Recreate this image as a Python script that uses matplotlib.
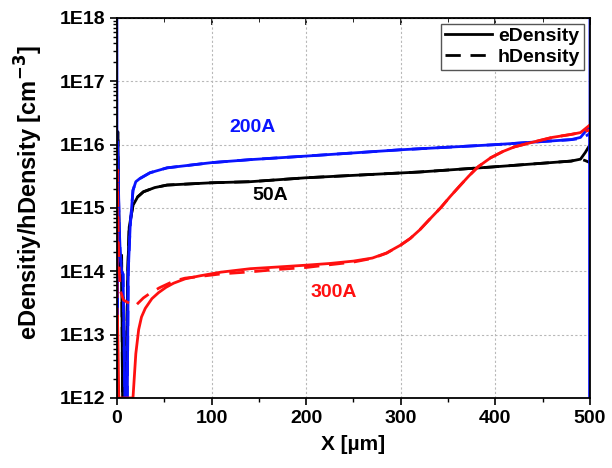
import numpy as np
import matplotlib.pyplot as plt
from matplotlib.ticker import LogLocator, FixedLocator, NullFormatter

plt.rcParams['font.family'] = ['Liberation Sans', 'DejaVu Sans']
plt.rcParams['font.weight'] = 'bold'

# 50A (black)
x_50_e = [0, 0.5, 1, 1.5, 2, 3, 4, 5, 6, 8, 9.5, 10.5, 11.5, 13, 17, 22, 28, 40, 53, 100, 141, 200, 320, 402, 480, 490, 495, 500]
n_50_e = [1e12, 5e15, 1.6e16, 3e15, 8e14, 1e14, 1.5e14, 1.8e14, 1e12, 1e11, 1e12, 1e13, 1e14, 5e14, 1.1e15, 1.5e15, 1.8e15, 2.1e15, 2.3e15, 2.5e15, 2.6e15, 3.0e15, 3.7e15, 4.5e15, 5.5e15, 5.9e15, 7.5e15, 1.0e16]
x_50_h = [0, 0.5, 1, 1.5, 2, 3, 4, 5, 6, 8, 9.5, 10.5, 11.5, 13, 17, 22, 28, 40, 53, 100, 141, 200, 320, 402, 480, 490, 495, 500]
n_50_h = [1e12, 4e15, 1.2e16, 2e15, 6e14, 1e14, 1.4e14, 1.7e14, 1e12, 1e11, 1e12, 1e13, 1e14, 5e14, 1.1e15, 1.5e15, 1.8e15, 2.1e15, 2.3e15, 2.5e15, 2.6e15, 3.0e15, 3.7e15, 4.5e15, 5.5e15, 5.9e15, 5.6e15, 5.2e15]

# 200A (blue)
x_200_e = [0, 0.2, 0.8, 1.5, 2.5, 3.5, 5, 6.5, 8.5, 10, 11, 12, 14, 17, 20, 24, 35, 53, 100, 141, 200, 300, 400, 480, 490, 495, 500, 500, 500]
n_200_e = [1e19, 1e12, 1.1e16, 3e15, 5e14, 2e14, 1e14, 9e13, 1e12, 1e11, 1e12, 1e14, 5e14, 1.9e15, 2.6e15, 2.9e15, 3.6e15, 4.3e15, 5.2e15, 5.8e15, 6.6e15, 8.3e15, 1.0e16, 1.2e16, 1.3e16, 1.6e16, 2.0e16, 1e12, 1e19]
x_200_h = [0, 0.8, 1.5, 2.5, 3.5, 5, 6.5, 8.5, 10, 11, 12, 14, 17, 20, 24, 35, 53, 100, 141, 200, 300, 400, 480, 490, 495, 500]
n_200_h = [1e12, 9e15, 2.5e15, 4e14, 2e14, 1e14, 9e13, 1e12, 1e11, 1e12, 1e14, 5e14, 1.9e15, 2.6e15, 2.9e15, 3.6e15, 4.3e15, 5.2e15, 5.8e15, 6.6e15, 8.3e15, 1.0e16, 1.2e16, 1.25e16, 1.35e16, 1.5e16]

# 300A (red)
x_300_e = [0, 0.5, 1, 2, 17, 20, 23, 26, 30, 37, 44, 52, 60, 72, 88, 110, 141, 170, 200, 225, 250, 270, 285, 300, 310,
           320, 330, 342, 352, 362, 372, 382, 395, 408, 420, 437, 460, 480, 490, 500]
n_300_e = [1e12, 2e13, 1e13, 1e12, 1e12, 5e12, 1.2e13, 1.9e13, 2.6e13, 3.7e13, 4.6e13, 5.6e13, 6.5e13, 7.6e13, 8.5e13, 9.7e13, 1.1e14, 1.17e14, 1.25e14, 1.33e14, 1.45e14, 1.62e14, 1.95e14, 2.6e14, 3.3e14,
           4.5e14, 6.5e14, 1.0e15, 1.5e15, 2.2e15, 3.2e15, 4.5e15, 6.2e15, 7.8e15, 9.2e15, 1.07e16, 1.3e16, 1.45e16, 1.55e16, 2.05e16]
x_300_h = [0, 0.5, 1, 1.5, 2.5, 3.5, 7, 12, 19, 28, 35, 45, 60, 72, 88, 110, 141, 170, 200, 225, 250, 270, 285, 300, 310,
           320, 330, 342, 352, 362, 372, 382, 395, 408, 420, 437, 460, 480, 490, 500]
n_300_h = [1e12, 4e15, 1e15, 3e14, 1e14, 5e13, 3.5e13, 3.2e13, 2.8e13, 3.8e13, 4.5e13, 5.5e13, 7e13, 7.8e13, 8.3e13, 9.1e13, 9.8e13, 1.07e14, 1.15e14, 1.27e14, 1.4e14, 1.6e14, 1.93e14, 2.6e14, 3.3e14,
           4.5e14, 6.5e14, 1.0e15, 1.5e15, 2.2e15, 3.2e15, 4.5e15, 6.2e15, 7.8e15, 9.2e15, 1.07e16, 1.3e16, 1.45e16, 1.55e16, 1.7e16]

labels = ['50A', '200A', '300A']
label_x = [162, 143, 229]
label_y = [1.6e15, 1.85e16, 4.6e13]
colors = ['black', '#0a14ff', '#ff1010']

fig = plt.figure(figsize=(6.12, 4.68), dpi=100)
ax = fig.add_axes([0.191, 0.1496, 0.773, 0.812])

dash = (0, (5.5, 3.5))
ax.plot(x_50_h, n_50_h, color=colors[0], lw=2, ls=dash)
ax.plot(x_50_e, n_50_e, color=colors[0], lw=2)
ax.plot(x_200_h, n_200_h, color=colors[1], lw=2, ls=dash)
ax.plot(x_200_e, n_200_e, color=colors[1], lw=2)
ax.plot(x_300_h, n_300_h, color=colors[2], lw=2, ls=dash)
ax.plot(x_300_e, n_300_e, color=colors[2], lw=2)

for lab, lx, ly, c in zip(labels, label_x, label_y, colors):
    ax.text(lx, ly, lab, color=c, fontsize=14, fontweight='bold', ha='center', va='center')

ax.set_yscale('log')
ax.set_xlim(0, 500)
ax.set_ylim(1e12, 1e18)
ax.set_yticks([10.0**k for k in range(12, 19)])
ax.set_yticklabels(['1E%d' % k for k in range(12, 19)])
ax.yaxis.set_minor_locator(LogLocator(base=10, subs=np.arange(2, 10), numticks=20))
ax.yaxis.set_minor_formatter(NullFormatter())
ax.set_xticks([0, 100, 200, 300, 400, 500])
ax.xaxis.set_minor_locator(FixedLocator([50, 150, 250, 350, 450]))

ax.tick_params(axis='both', which='major', labelsize=14, length=5, width=1.2, direction='out')
ax.tick_params(axis='both', which='minor', length=3, width=1, direction='out')
ax.tick_params(axis='both', which='both', top=False, right=False)
for lbl in ax.get_xticklabels() + ax.get_yticklabels():
    lbl.set_fontweight('bold')

sec_x = ax.secondary_xaxis('top')
sec_x.set_xticks([0, 100, 200, 300, 400, 500])
sec_x.xaxis.set_minor_locator(FixedLocator([50, 150, 250, 350, 450]))
sec_x.tick_params(which='major', direction='in', length=5, width=1.2, labeltop=False)
sec_x.tick_params(which='minor', direction='in', length=3, labeltop=False)

ax.grid(True, which='major', ls=(0, (2, 2)), color='#b8b8b8', lw=0.8)
for s in ax.spines.values():
    s.set_linewidth(1.3)

ax.set_xlabel('X [µm]', fontsize=15, fontweight='bold', labelpad=6)
ax.set_ylabel(r'eDensitiy/hDensity [cm$^{\mathbf{-3}}$]', fontsize=17, fontweight='bold')
ax.yaxis.set_label_coords(-0.152, 0.54)

leg_e, = ax.plot([], [], color='black', lw=2, label='eDensity')
leg_h, = ax.plot([], [], color='black', lw=2, ls=(0, (5.5, 3.5)), label='hDensity')
leg = ax.legend(handles=[leg_e, leg_h], loc='upper right', prop={'weight': 'bold', 'size': 14},
                frameon=True, fancybox=False, edgecolor='#555555', framealpha=1,
                handlelength=2.4, borderaxespad=0.3, borderpad=0.2, labelspacing=0.15, handletextpad=0.3)
leg.get_frame().set_linewidth(1.0)

fig.savefig('out.png', dpi=100)
